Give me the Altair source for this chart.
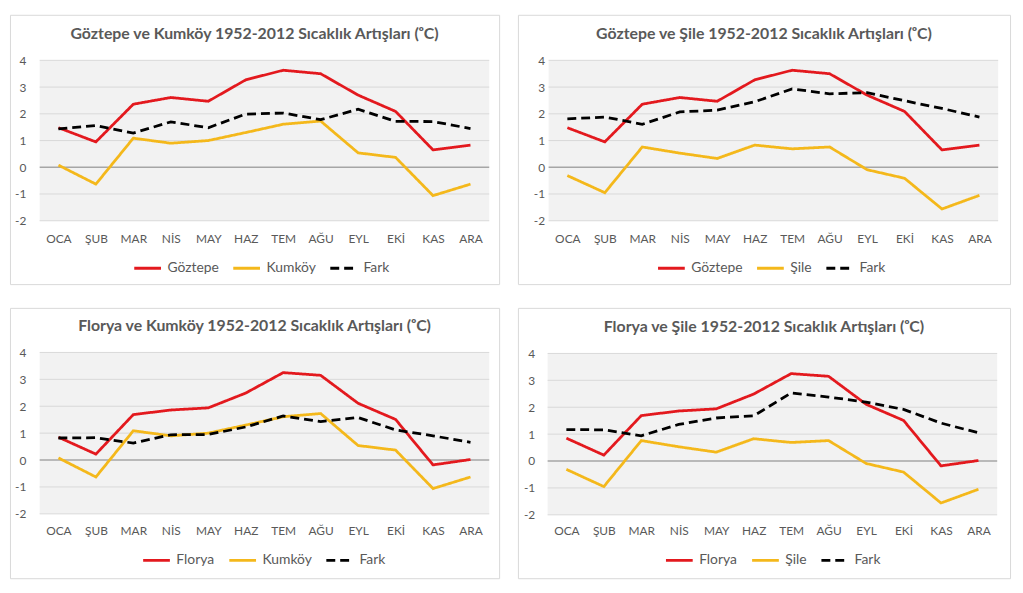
import altair as alt
import pandas as pd

months = ["OCA", "ŞUB", "MAR", "NİS", "MAY", "HAZ", "TEM", "AĞU", "EYL", "EKİ", "KAS", "ARA"]
goztepe = [1.48, 0.95, 2.36, 2.61, 2.47, 3.27, 3.63, 3.50, 2.70, 2.09, 0.65, 0.83]
florya = [0.85, 0.22, 1.69, 1.86, 1.94, 2.49, 3.25, 3.15, 2.11, 1.51, -0.18, 0.02]
kumkoy = [0.08, -0.63, 1.09, 0.90, 1.00, 1.30, 1.61, 1.73, 0.54, 0.37, -1.06, -0.63]
sile = [-0.31, -0.95, 0.76, 0.53, 0.33, 0.83, 0.69, 0.76, -0.09, -0.41, -1.56, -1.05]
fark_gk = [1.44, 1.56, 1.28, 1.70, 1.48, 1.99, 2.03, 1.78, 2.17, 1.72, 1.71, 1.45]
fark_gs = [1.81, 1.88, 1.61, 2.07, 2.14, 2.45, 2.93, 2.75, 2.79, 2.49, 2.20, 1.88]
fark_fk = [0.82, 0.83, 0.63, 0.94, 0.95, 1.23, 1.64, 1.43, 1.58, 1.12, 0.90, 0.66]
fark_fs = [1.17, 1.16, 0.94, 1.36, 1.60, 1.68, 2.53, 2.38, 2.19, 1.92, 1.41, 1.05]
y_ticks = [-2, -1, 1, 2, 3, 4]
zero_line = [0]

RED = "#E3191E"
GOLD = "#F4B81B"
BLACK = "#000000"
TXT = "#595959"
FONT = "Lato"

month_expr = "[" + ",".join("'" + m + "'" for m in months) + "][datum.value]"


def panel(title, name_a, vals_a, name_b, vals_b, fark, width, height,
          x_range, y_range, ylab_off, xaxis_off, leg_x, leg_y, title_off):
    rows = []
    for name, vals in ((name_a, vals_a), (name_b, vals_b), ("Fark", fark)):
        for i, v in enumerate(vals):
            rows.append({"i": i, "s": name, "v": v})
    df = pd.DataFrame(rows)
    xs = alt.Scale(domain=[-0.5, 11.5], range=x_range, nice=False, zero=False)
    ys = alt.Scale(domain=[-2, 4], range=y_range, nice=False, zero=False)
    x_axis = alt.Axis(orient="bottom", values=list(range(12)), labelExpr=month_expr,
                      offset=xaxis_off, domain=False, ticks=False, tickSize=0, grid=False,
                      labelPadding=2, labelFlush=False, labelOverlap=False, title=None,
                      labelFont=FONT, labelFontSize=12, labelColor=TXT)
    y_axis = alt.Axis(orient="left", values=sorted(y_ticks + zero_line), labelExpr="'' + datum.value",
                      offset=ylab_off, domain=False, ticks=False, tickSize=0, grid=False, title=None,
                      labelPadding=0, labelFont=FONT, labelFontSize=12, labelColor=TXT)

    frame = pd.DataFrame({"x0": [-0.5], "x1": [11.5], "y0": [min(y_ticks)], "y1": [max(y_ticks)]})
    bg = alt.Chart(frame).mark_rect(fill="#F2F2F2").encode(
        x=alt.X("x0:Q", scale=xs, axis=x_axis), x2="x1:Q",
        y=alt.Y("y0:Q", scale=ys, axis=y_axis), y2="y1:Q")

    grid_df = pd.DataFrame({"y": y_ticks, "x0": -0.5, "x1": 11.5})
    grid = alt.Chart(grid_df).mark_rule(color="#D9D9D9", strokeWidth=1).encode(
        x=alt.X("x0:Q", scale=xs, axis=x_axis), x2="x1:Q",
        y=alt.Y("y:Q", scale=ys, axis=y_axis))

    zero_df = pd.DataFrame({"y": zero_line, "x0": -0.5, "x1": 11.5})
    zero = alt.Chart(zero_df).mark_rule(color="#A6A6A6", strokeWidth=1.5).encode(
        x=alt.X("x0:Q", scale=xs, axis=x_axis), x2="x1:Q",
        y=alt.Y("y:Q", scale=ys, axis=y_axis))

    dom = [name_a, name_b, "Fark"]
    leg = alt.Legend(orient="none", legendX=leg_x, legendY=leg_y, direction="horizontal",
                     title=None, symbolType="stroke", symbolSize=729, symbolStrokeWidth=3,
                     labelFont=FONT, labelFontSize=14, labelColor=TXT, labelOffset=5,
                     columnPadding=8, padding=0)
    lines = alt.Chart(df).mark_line(strokeWidth=2.8).encode(
        x=alt.X("i:Q", scale=xs, axis=x_axis),
        y=alt.Y("v:Q", scale=ys, axis=y_axis),
        color=alt.Color("s:N", scale=alt.Scale(domain=dom, range=[RED, GOLD, BLACK]), legend=leg),
        strokeDash=alt.StrokeDash("s:N", scale=alt.Scale(domain=dom, range=[[1, 0], [1, 0], [9, 5]]), legend=leg),
        order=alt.Order("i:Q"),
    )
    return alt.layer(bg, grid, zero, lines).properties(
        width=width, height=height,
        title=alt.TitleParams(text=title, font=FONT, fontSize=16, fontWeight="bold", color=TXT,
                              anchor="middle", frame="group", offset=title_off, baseline="middle"))


p1 = panel("Göztepe ve Kumköy 1952-2012 Sıcaklık Artışları (ᵒC)", "Göztepe", goztepe, "Kumköy", kumkoy, fark_gk,
           494, 272, [30, 484], [208, 46], -16, -53, 124, 241, -35)
p2 = panel("Göztepe ve Şile 1952-2012 Sıcaklık Artışları (ᵒC)", "Göztepe", goztepe, "Şile", sile, fark_gs,
           497, 272, [31, 485], [208, 46], -27, -53, 140, 241, -35)
p3 = panel("Florya ve Kumköy 1952-2012 Sıcaklık Artışları (ᵒC)", "Florya", florya, "Kumköy", kumkoy, fark_fk,
           494, 273, [30, 484], [208, 45], -16, -55, 133, 240, -34)
p4 = panel("Florya ve Şile 1952-2012 Sıcaklık Artışları (ᵒC)", "Florya", florya, "Şile", sile, fark_fs,
           497, 273, [30, 484], [209, 46], -17, -55, 148, 240, -35)

ind = dict(color="independent", strokeDash="independent")
chart = alt.vconcat(
    alt.hconcat(p1, p2, spacing=17).resolve_scale(**ind),
    alt.hconcat(p3, p4, spacing=17).resolve_scale(**ind),
    spacing=22,
).resolve_scale(**ind).properties(
    padding={"left": 1, "top": 3, "right": 4, "bottom": 4},
    background="white",
).configure_view(stroke="#D9D9D9", strokeWidth=1, fill="white")

chart.save("out.html", embed_options={"renderer": "svg", "actions": False})
